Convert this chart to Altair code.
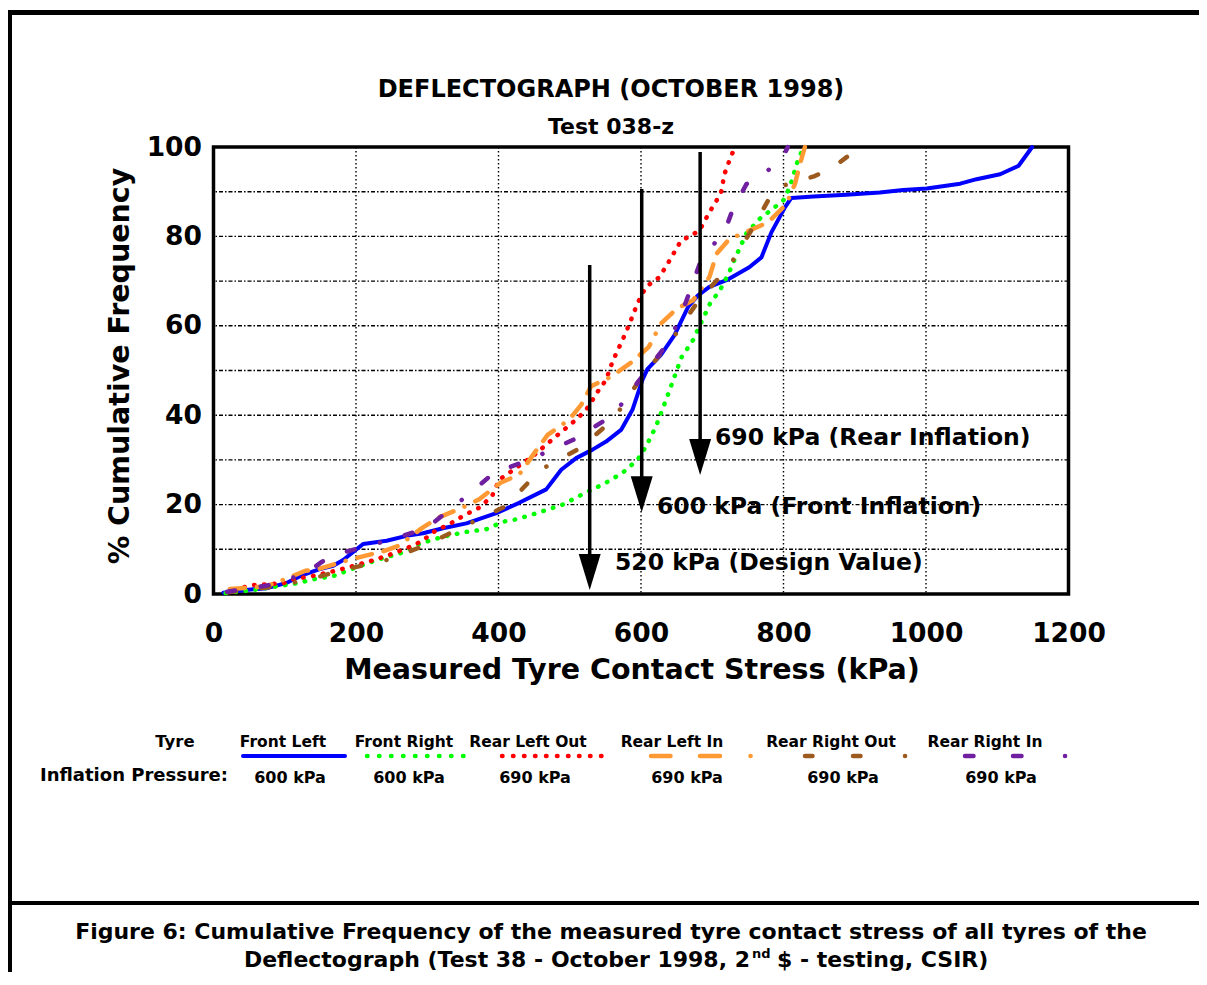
import altair as alt
import pandas as pd

# ------------------------------------------------------------------ data
X_TICKS = [0, 200, 400, 600, 800, 1000, 1200]
Y_TICKS = [0, 20, 40, 60, 80, 100]
X_GRID = [200, 400, 600, 800, 1000]
Y_GRID = [10, 20, 30, 40, 50, 60, 70, 80, 90]

SERIES_NAMES = ["Front Left", "Front Right", "Rear Left Out",
                "Rear Left In", "Rear Right Out", "Rear Right In"]
SERIES_PRESSURES = ["600 kPa", "600 kPa", "690 kPa", "690 kPa", "690 kPa", "690 kPa"]

FL_X = [14, 45, 75, 103, 126, 148, 168, 182, 210, 243, 271, 294, 322, 355, 397, 429,
        467, 488, 509, 532, 551, 572, 588, 602, 609, 628, 647, 666, 680, 696, 720,
        752, 769, 783, 802, 811, 842, 888, 935, 968, 1001, 1048, 1071, 1104, 1130, 1149]
FL_Y = [0.3, 0.9, 1.3, 2.5, 4.3, 5.5, 6.3, 7.6, 11.2, 11.9, 13.0, 13.6, 14.7, 15.8, 18.1,
        20.4, 23.4, 27.8, 30.4, 32.3, 34.1, 36.7, 41.2, 47.9, 50.3, 53.5, 57.9, 64.2,
        66.8, 68.7, 70.2, 73.1, 75.3, 80.9, 86.5, 88.6, 88.9, 89.3, 89.8, 90.4, 90.7,
        91.8, 92.8, 93.9, 95.8, 100]

FR_X = [17, 56, 93, 117, 140, 168, 196, 229, 262, 290, 322, 355, 383, 407, 425, 448,
        490, 518, 551, 574, 595, 607, 621, 636, 657, 673, 685, 697, 711, 723, 734, 748,
        767, 786, 800, 809, 819, 828]
FR_Y = [0.2, 0.9, 1.8, 2.4, 3.3, 4.0, 5.7, 7.6, 9.1, 11.3, 12.8, 13.9, 14.5, 16.2, 16.7,
        17.8, 20.0, 22.3, 24.9, 27.1, 30.0, 33.0, 37.5, 43.8, 53.0, 56.8, 60.9, 65.0,
        68.0, 71.7, 75.8, 80.7, 84.0, 86.3, 88.1, 91.1, 96.4, 100]

RLO_X = [30, 42, 56, 98, 113, 141, 169, 197, 225, 253, 281, 295, 307, 335, 354, 373,
         391, 401, 415, 429, 448, 467, 481, 509, 523, 532, 541, 551, 560, 574, 584, 595,
         607, 626, 640, 656, 668, 682, 696, 706, 713, 717, 722, 728, 732]
RLO_Y = [0.8, 1.5, 2.0, 2.4, 3.3, 4.1, 5.1, 6.3, 7.6, 9.1, 10.9, 12.1, 13.7, 16.0, 17.8,
         19.3, 21.9, 25.6, 27.1, 28.7, 30.8, 33.4, 35.3, 39.0, 41.2, 43.4, 45.7, 47.9,
         52.0, 56.8, 60.5, 65.0, 68.7, 70.9, 74.6, 79.0, 80.0, 81.3, 85.4, 88.0, 90.2,
         93.9, 96.1, 98.5, 100]

RLI_X = [23, 73, 91, 129, 148, 185, 204, 239, 260, 293, 316, 349, 373, 403, 429, 452,
         469, 499, 516, 530, 558, 588, 611, 628, 650, 673, 696, 706, 724, 752, 778, 804,
         816, 823, 830]
RLI_Y = [1.1, 1.7, 2.7, 5.2, 5.6, 7.4, 8.2, 9.6, 10.8, 14.8, 17.1, 19.3, 21.2, 24.9,
         26.7, 31.9, 35.6, 39.0, 42.3, 46.5, 48.6, 52.0, 55.3, 60.5, 63.8, 65.7, 70.9,
         76.1, 79.4, 81.3, 83.1, 87.2, 91.7, 96.1, 100]

RRO_X = [20, 77, 131, 182, 243, 299, 355, 411, 458, 514, 561, 598, 643, 678, 725, 758,
         788, 844, 870, 900, 905]
RRO_Y = [0.4, 1.5, 3.1, 5.4, 7.6, 11.0, 15.4, 19.7, 27.7, 32.6, 39.0, 47.9, 56.8, 65.0,
         73.6, 82.2, 90.8, 93.5, 95.5, 99.1, 100]

RRI_X = [19, 75, 129, 152, 187, 243, 299, 348, 393, 449, 469, 505, 561, 598, 641, 663,
         684, 708, 722, 729, 748, 769, 799, 806]
RRI_Y = [0.5, 1.9, 4.5, 7.2, 9.5, 11.9, 14.7, 21.0, 27.0, 30.4, 31.9, 34.5, 40.0, 47.9,
         56.8, 65.3, 74.6, 79.4, 83.1, 86.1, 91.7, 93.5, 97.6, 100]

ARROW_X = [528, 601, 683]
ARROW_TOP = [73.6, 90.6, 98.9]
ARROW_TIP = [0.9, 18.3, 26.6]
ARROW_LABELS = ["520 kPa (Design Value)", "600 kPa (Front Inflation)",
                "690 kPa (Rear Inflation)"]

TITLE = "DEFLECTOGRAPH (OCTOBER 1998)"
SUBTITLE = "Test 038-z"
X_TITLE = "Measured Tyre Contact Stress (kPa)"
Y_TITLE = "% Cumulative Frequency"
CAPTION_1 = "Figure 6: Cumulative Frequency of the measured tyre contact stress of all tyres of the"
CAPTION_2A = "Deflectograph (Test 38 - October 1998, 2"
CAPTION_2B = "nd"
CAPTION_2C = "$ - testing, CSIR)"

# ------------------------------------------------------------------ layout / style
FONT = "DejaVu Sans"
X0, Y0 = 213.5, 147.0          # page position of the plot area's corner
PW, PH = 855, 447              # plot area
SVG_W, SVG_H = 1191, 964

STYLES = {
    "Front Left":     dict(color="#0000FF", width=4, dash=None, ldash=None),
    "Front Right":    dict(color="#00FF00", width=4.5, dash=[0.5, 9.5], ldash=[0.5, 11.5]),
    "Rear Left Out":  dict(color="#FF0000", width=4.5, dash=[0.5, 9.5], ldash=[0.5, 10.5]),
    "Rear Left In":   dict(color="#FF9933", width=4.5, dash=[15, 12, 15, 12, 0.1, 12],
                           ldash=[19.5, 29.5, 20, 30.5, 0.1, 40]),
    "Rear Right Out": dict(color="#9C5A1E", width=4.5, dash=[8, 26, 8, 26, 0.1, 26],
                           ldash=[7.5, 40.5, 7.5, 44.5, 0.1, 50]),
    "Rear Right In":  dict(color="#6F1FA0", width=4.5, dash=[8, 26, 8, 26, 0.1, 26],
                           ldash=[8.5, 39.5, 8.5, 43.5, 0.1, 50]),
}
SERIES_DATA = {
    "Front Left": (FL_X, FL_Y), "Front Right": (FR_X, FR_Y),
    "Rear Left Out": (RLO_X, RLO_Y), "Rear Left In": (RLI_X, RLI_Y),
    "Rear Right Out": (RRO_X, RRO_Y), "Rear Right In": (RRI_X, RRI_Y),
}

xscale = alt.Scale(domain=[0, 1200], nice=False, zero=False)
yscale = alt.Scale(domain=[0, 100], nice=False, zero=False)
x_axis = alt.Axis(values=X_TICKS, format="d", labelFont=FONT, labelFontSize=26.5,
                  labelFontWeight="bold", labelColor="black", labelPadding=26,
                  ticks=False, tickSize=0, domain=False, grid=False,
                  labelFlush=False, labelOverlap=False)
y_axis = alt.Axis(values=Y_TICKS, format="d", labelFont=FONT, labelFontSize=26.5,
                  labelFontWeight="bold", labelColor="black", labelPadding=12,
                  ticks=False, tickSize=0, domain=False, grid=False,
                  labelFlush=False, labelOverlap=False)


def X(field):
    return alt.X(f"{field}:Q", scale=xscale, axis=x_axis, title=None)


def Y(field):
    return alt.Y(f"{field}:Q", scale=yscale, axis=y_axis, title=None)


ONE = alt.Data(values=[{"a": 1}])


def text_at(txt, xp, yp, size, align="center", baseline="middle", angle=None):
    kw = dict(text=txt, font=FONT, fontSize=size, fontWeight="bold", align=align,
              baseline=baseline, color="black")
    if angle is not None:
        kw["angle"] = angle
    return alt.Chart(ONE).mark_text(**kw).encode(x=alt.value(xp - X0), y=alt.value(yp - Y0))


def rule_px(x1, y1, x2, y2, width, color="black", dash=None, cap="butt"):
    kw = dict(color=color, strokeWidth=width, strokeCap=cap)
    if dash:
        kw["strokeDash"] = dash
    return alt.Chart(ONE).mark_rule(**kw).encode(
        x=alt.value(x1 - X0), x2=alt.value(x2 - X0),
        y=alt.value(y1 - Y0), y2=alt.value(y2 - Y0))


layers = []

# grid
layers.append(alt.Chart(pd.DataFrame({"g": X_GRID})).mark_rule(
    color="black", strokeWidth=1.4, strokeDash=[1.6, 2.4]).encode(x=X("g")))
layers.append(alt.Chart(pd.DataFrame({"g": Y_GRID})).mark_rule(
    color="black", strokeWidth=1.4, strokeDash=[4, 2, 1.5, 2]).encode(y=Y("g")))

# series
for name in SERIES_NAMES:
    xs, ys = SERIES_DATA[name]
    st = STYLES[name]
    kw = dict(color=st["color"], strokeWidth=st["width"], strokeCap="round", strokeJoin="round")
    if st["dash"]:
        kw["strokeDash"] = st["dash"]
    df = pd.DataFrame({"stress": xs, "freq": ys})
    layers.append(alt.Chart(df).mark_line(**kw).encode(x=X("stress"), y=Y("freq")))

# arrows
arrows = pd.DataFrame({"ax": ARROW_X, "top": ARROW_TOP, "tip": ARROW_TIP})
layers.append(alt.Chart(arrows).transform_calculate(base="datum.tip + 3").mark_rule(
    color="black", strokeWidth=3.5).encode(x=X("ax"), y=Y("top"), y2="base:Q"))
layers.append(alt.Chart(arrows).mark_point(
    shape="M-0.61,-2L0.61,-2L0,0Z", size=1296, filled=True, color="black",
    opacity=1, strokeWidth=0).encode(x=X("ax"), y=Y("tip")))

# arrow labels
for txt, (lx, ly) in zip(ARROW_LABELS, [(615, 563), (657, 507), (715, 438)]):
    layers.append(text_at(txt, lx, ly, 23.5, align="left"))

# titles
layers.append(text_at(TITLE, 611, 90, 24))
layers.append(text_at(SUBTITLE, 611, 127, 22))
layers.append(text_at(X_TITLE, 632, 670, 28.5))
layers.append(text_at(Y_TITLE, 120, 366, 28.5, angle=270))

# legend
legend_centers = [283, 404, 528, 672, 831, 985]
value_centers = [290, 409, 535, 687, 843, 1001]
sample_spans = [(243, 345), (367, 467), (502, 602), (651, 753), (805, 907), (965, 1068)]
layers.append(text_at("Tyre", 175, 742, 16.5))
layers.append(text_at("Inflation Pressure:", 40, 776, 18, align="left"))
for name, pres, cx, vx, (s1, s2) in zip(SERIES_NAMES, SERIES_PRESSURES, legend_centers,
                                        value_centers, sample_spans):
    st = STYLES[name]
    layers.append(text_at(name, cx, 742, 15.5))
    layers.append(text_at(pres, vx, 778, 16))
    layers.append(rule_px(s1, 756, s2, 756, st["width"], color=st["color"],
                          dash=st["ldash"], cap="round"))

# page frame
PAGE_R = 8 + SVG_W
PAGE_B = 8 + SVG_H
layers.append(rule_px(8, 12.5, PAGE_R, 12.5, 5))
layers.append(rule_px(10, 10, 10, PAGE_B, 4))
layers.append(rule_px(8, 903, PAGE_R, 903, 4))

# caption
layers.append(text_at(CAPTION_1, 611, 932, 22))
layers.append(text_at(CAPTION_2A, 750, 960, 22, align="right"))
layers.append(text_at(CAPTION_2B, 752, 953.5, 13, align="left"))
layers.append(text_at(CAPTION_2C, 777, 960, 22, align="left"))

chart = alt.layer(*layers).properties(
    width=PW, height=PH,
    autosize=alt.AutoSizeParams(type="none"),
    padding={"left": X0 - 8, "top": Y0 - 8,
             "right": SVG_W - (X0 - 8) - PW, "bottom": SVG_H - (Y0 - 8) - PH},
    background="white",
).configure_view(stroke="black", strokeWidth=3.5)

chart.save("out.html", embed_options={"renderer": "svg", "actions": False})
